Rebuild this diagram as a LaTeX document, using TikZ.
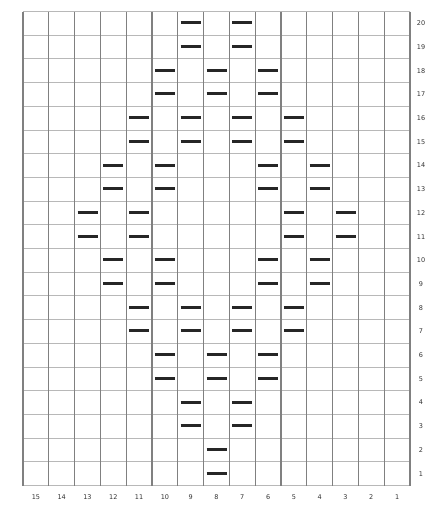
\documentclass[tikz,border=0pt]{standalone}
\usepackage{fontspec}
\setmainfont{DejaVu Sans}
\begin{document}
\begin{tikzpicture}[x=1pt,y=-1pt,
  vline/.style={draw=black!50,line width=1.1pt},
  hline/.style={draw=black!28,line width=1pt},
  stitch/.style={draw=black!85,line width=3pt},
  lbl/.style={font=\fontsize{6.5}{7}\selectfont,text=black!80,inner sep=0pt}]
\useasboundingbox (0,0) rectangle (428,506);
\fill[white] (0,0) rectangle (428,506);
\def\gx{23}\def\gy{11.5}\def\cw{25.8}\def\rh{23.7}
% horizontal lines
\foreach \j in {0,...,20}{
  \draw[hline] (\gx,{\gy+\j*\rh}) -- ({\gx+15*\cw},{\gy+\j*\rh});
}
% vertical lines
\foreach \i in {0,...,15}{
  \draw[vline] ({\gx+\i*\cw},\gy) -- ({\gx+\i*\cw},{\gy+20*\rh});
}
% stitches: row / columns
\foreach \r/\cols in {20/{9,7},19/{9,7},18/{10,8,6},17/{10,8,6},
  16/{11,9,7,5},15/{11,9,7,5},14/{12,10,6,4},13/{12,10,6,4},
  12/{13,11,5,3},11/{13,11,5,3},10/{12,10,6,4},9/{12,10,6,4},
  8/{11,9,7,5},7/{11,9,7,5},6/{10,8,6},5/{10,8,6},4/{9,7},3/{9,7},2/{8},1/{8}}{
  \foreach \c in \cols{
    \draw[stitch] ({\gx+(15-\c+0.5)*\cw-10},{\gy+(20-\r+0.5)*\rh-0.5}) -- ({\gx+(15-\c+0.5)*\cw+10},{\gy+(20-\r+0.5)*\rh-0.5});
  }
}
% row labels
\foreach \r in {1,...,20}{
  \node[lbl] (row\r) at (421,{\gy+(20-\r+0.5)*\rh}) {\r};
}
% column labels
\foreach \c in {1,...,15}{
  \node[lbl] (col\c) at ({\gx+(15-\c+0.5)*\cw},497) {\c};
}
\end{tikzpicture}
\end{document}
